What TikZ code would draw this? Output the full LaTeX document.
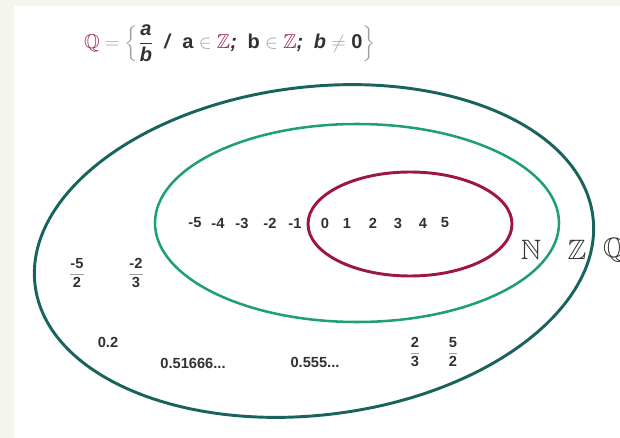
\documentclass[tikz,border=0pt]{standalone}
\usepackage{amsmath,amssymb}
\usepackage{fontspec}
\setmainfont{Liberation Sans}
\usetikzlibrary{positioning}
\definecolor{setQ}{RGB}{24,100,92}
\definecolor{setZ}{RGB}{32,160,112}
\definecolor{setN}{RGB}{158,22,72}
\definecolor{ink}{RGB}{50,50,50}
\definecolor{fgray}{RGB}{160,160,160}
\definecolor{paper}{RGB}{243,246,236}
\newcommand{\fr}[2]{{\color{fgray}$\genfrac{}{}{0.6pt}{0}{\textcolor{ink}{\text{\bfseries #1}}}{\textcolor{ink}{\text{\bfseries #2}}}$}}
\newcommand{\bi}[1]{\textbf{\textit{#1}}}

\begin{document}
\begin{tikzpicture}[
  x=0.75pt, y=-0.75pt,
  num/.style={font=\fontsize{11}{13}\selectfont\bfseries, text=ink, inner sep=1pt},
  setname/.style={font=\fontsize{21}{24}\selectfont, text=ink, inner sep=0pt},
  ring/.style={draw=#1, line width=2.2pt},
]
% page
\fill[paper] (0,0) rectangle (620,438);
\fill[white] (14,6) rectangle (620,438);
\useasboundingbox (0,0) rectangle (620,438);

% definition of Q
\node[font=\fontsize{15}{18}\selectfont\bfseries, text=ink, inner sep=0pt] (defq) at (230,44)
  {$\textcolor{setN}{\mathbb{Q}}\mathrel{\textcolor{fgray}{=}}
   \color{fgray}\left\{\rule[-11pt]{0pt}{28pt}{\color{ink}\dfrac{\text{\bi{a}}}{\text{\bi{b}}}
   \;\;\text{\bi{/}}\;\;\text{\bfseries a}\mathrel{\textcolor{fgray}{\in}}\textcolor{setN}{\mathbb{Z}}\text{\bi{;}}
   \;\;\text{\bfseries b}\mathrel{\textcolor{fgray}{\in}}\textcolor{setN}{\mathbb{Z}}\text{\bi{;}}
   \;\;\text{\bi{b}}\mathrel{\textcolor{fgray}{\neq}}\text{\bfseries 0}}\right\}$};

% sets
\draw[ring=setQ, rotate around={7:(314,251)}] (314,251) ellipse [x radius=281, y radius=164];
\draw[ring=setZ, line width=1.9pt] (357,223) ellipse [x radius=202, y radius=99];
\draw[ring=setN] (410,224) ellipse [x radius=102, y radius=52];

\node[setname] (nN) at (531,250) {$\mathbb{N}$};
\node[setname] (nZ) at (577,250) {$\mathbb{Z}$};
\node[setname] (nQ) at (614,250) {$\mathbb{Q}$};

% integers
\foreach \v/\x in {-5/195, -4/218, -3/242, -2/270, -1/295, 0/325, 1/347, 2/373, 3/398, 4/423, 5/445} {
  \node[num] (z\x) at (\x,223) {\v};
}

% rationals
\node[num] (q1) at (77,273) {\fr{-5}{2}};
\node[num] (q2) at (136,273) {\fr{-2}{3}};
\node[num] (q3) at (415,352) {\fr{2}{3}};
\node[num] (q4) at (453,352) {\fr{5}{2}};
\node[num] (d1) at (108,342) {0.2};
\node[num] (d2) at (193,363) {0.51666...};
\node[num] (d3) at (315,362) {0.555...};
\end{tikzpicture}
\end{document}
